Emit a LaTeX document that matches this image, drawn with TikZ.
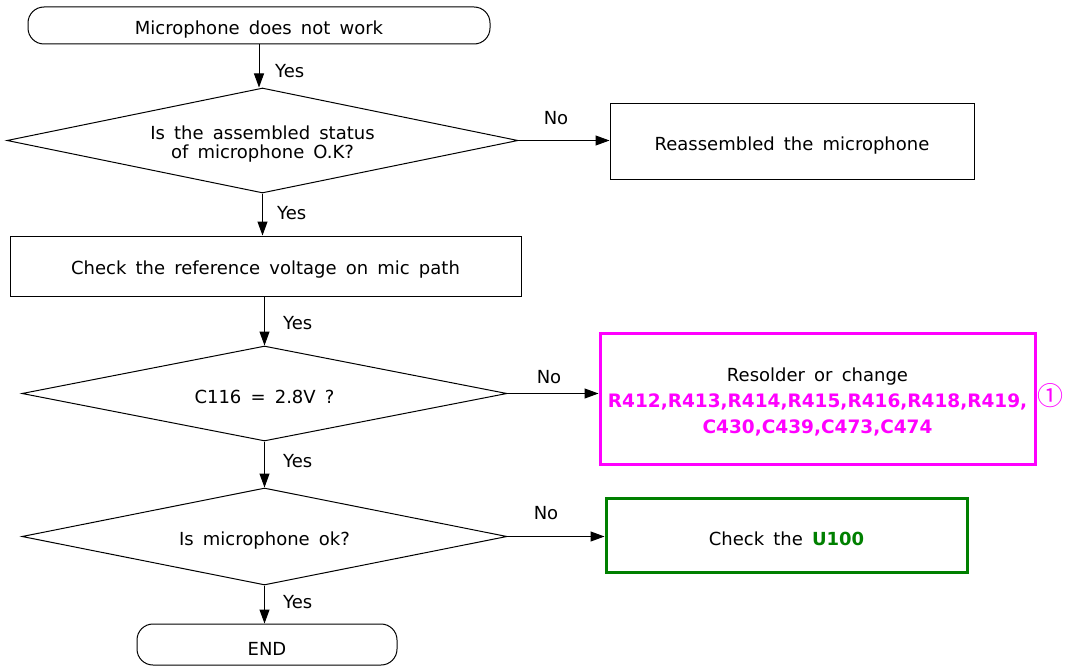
\documentclass[tikz,border=0pt]{standalone}
\usepackage{fontspec}
\setmainfont{DejaVu Sans}[WordSpace=1.6]
\newfontfamily\cjk{Noto Sans CJK SC}
\usetikzlibrary{shapes.geometric,arrows.meta}
\definecolor{mag}{RGB}{255,0,255}
\definecolor{grn}{RGB}{0,128,0}
\newcommand{\lowstrut}{\rule{0pt}{21pt}}
\begin{document}
\begin{tikzpicture}[x=1pt,y=-1pt,
 every node/.style={font=\fontsize{18}{19}\selectfont, inner sep=0pt},
 term/.style={draw, rounded corners=16pt, line width=1pt},
 procbox/.style={draw, line width=1pt},
 decision/.style={draw, diamond, aspect=5, line width=1pt, align=center},
 arr/.style={line width=1pt, -{Triangle[length=14pt,width=10pt]}},
 lbl/.style={anchor=west}]
\useasboundingbox (0,0) rectangle (1067,666);
\node[term, minimum width=462pt, minimum height=37pt] (start) at (259,25.5) {\lowstrut Microphone does not work};
\node[decision, minimum width=511pt, minimum height=105pt] (d1) at (262.5,140.5) {\lowstrut Is the assembled status\\of microphone O.K?};
\node[procbox, minimum width=364pt, minimum height=75pt] (re) at (792,141.5) {\lowstrut Reassembled the microphone};
\node[procbox, minimum width=511pt, minimum height=60pt] (chk) at (265.5,266) {\lowstrut Check the reference voltage on mic path};
\node[decision, minimum width=485pt, minimum height=95pt] (d2) at (264.5,393.5) {\lowstrut C116 = 2.8V ?};
\node[draw=mag, line width=3pt, minimum width=435pt, minimum height=131pt, align=center, font=\fontsize{18}{26}\selectfont] (rs) at (817.5,398.5)
 {\lowstrut Resolder or change\\\textcolor{mag}{\bfseries\fontsize{18.5}{26}\selectfont R412,R413,R414,R415,R416,R418,R419,}\\\textcolor{mag}{\bfseries\fontsize{18.5}{28}\selectfont C430,C439,C473,C474}};
\node[text=mag, font=\cjk\fontsize{26}{26}\selectfont] (c1) at (1050,396) {①};
\node[decision, minimum width=485pt, minimum height=97pt] (d3) at (264.5,536.5) {\lowstrut Is microphone ok?};
\node[draw=grn, line width=3pt, minimum width=361pt, minimum height=74pt] (u) at (786.5,535) {\lowstrut Check the \textcolor{grn}{\bfseries U100}};
\node[term, minimum width=260pt, minimum height=41pt] (end) at (267,644.5) {\lowstrut END};
\draw[arr] (start.south) -- (start.south |- d1.north);
\draw[arr] (d1.east) -- (d1.east -| re.west);
\draw[arr] (d1.south) -- (d1.south |- chk.north);
\draw[arr] (d2.north |- chk.south) -- (d2.north);
\draw[arr] (d2.east) -- (d2.east -| rs.west);
\draw[arr] (d2.south) -- (d3.north);
\draw[arr] (d3.east) -- (d3.east -| u.west);
\draw[arr] (d3.south) -- (d3.south |- end.north);
\node[lbl] (y1) at (275,71) {Yes};
\node[lbl] (y2) at (277,213) {Yes};
\node[lbl] (y3) at (283,323) {Yes};
\node[lbl] (y4) at (283,461) {Yes};
\node[lbl] (y5) at (283,602) {Yes};
\node (n1) at (556,118) {No};
\node (n2) at (549,377) {No};
\node (n3) at (546,513) {No};
\end{tikzpicture}
\end{document}
